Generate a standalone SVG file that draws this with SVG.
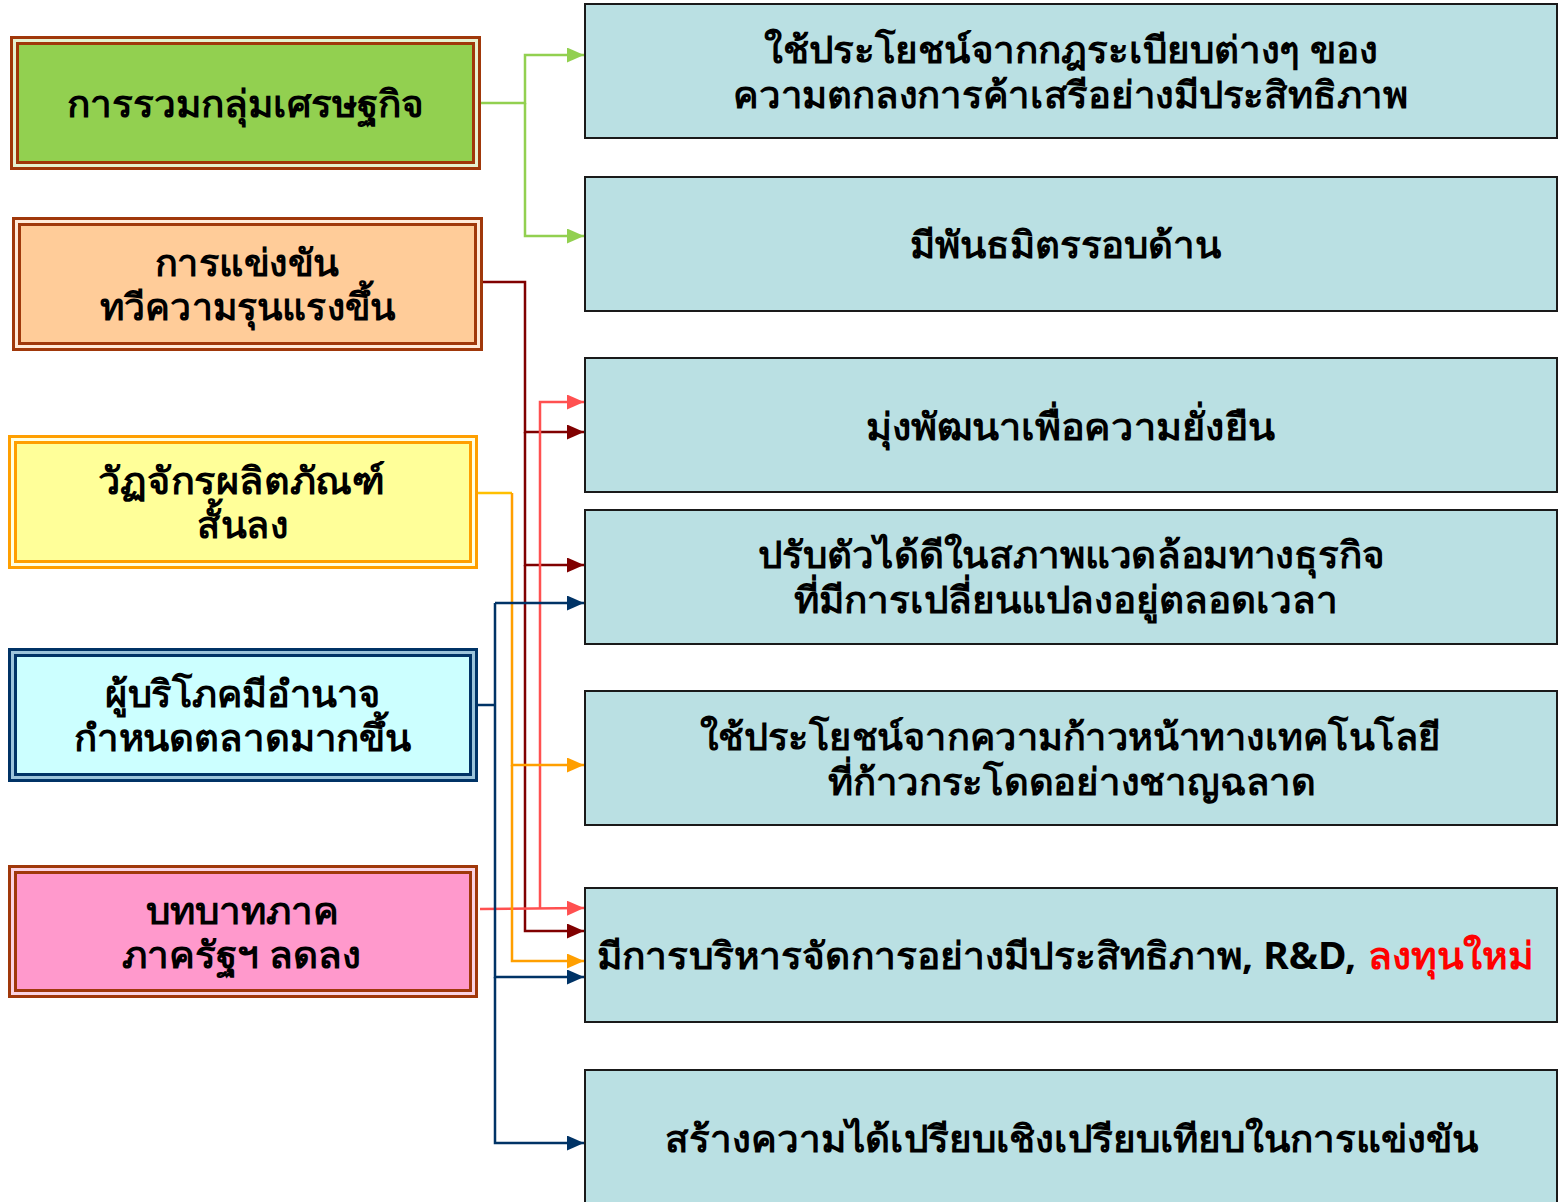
<svg xmlns="http://www.w3.org/2000/svg" width="1559" height="1202" viewBox="0 0 1559 1202">
<defs>
<style>
text{font-family:"Noto Sans","Liberation Sans",sans-serif;font-weight:bold;font-size:37px;fill:#000;text-anchor:middle}
.rb{fill:#BAE0E3;stroke:#1a1a1a;stroke-width:2}
.gap{fill:none;stroke-width:3}
.c{fill:none;stroke-width:2.5}
</style>
<marker id="aG" markerUnits="userSpaceOnUse" markerWidth="17" markerHeight="15" refX="17" refY="7.5" orient="auto"><path d="M0,0 L17,7.5 L0,15 z" fill="#92D050"/></marker>
<marker id="aR" markerUnits="userSpaceOnUse" markerWidth="17" markerHeight="15" refX="17" refY="7.5" orient="auto"><path d="M0,0 L17,7.5 L0,15 z" fill="#800000"/></marker>
<marker id="aS" markerUnits="userSpaceOnUse" markerWidth="17" markerHeight="15" refX="17" refY="7.5" orient="auto"><path d="M0,0 L17,7.5 L0,15 z" fill="#FF5050"/></marker>
<marker id="aO" markerUnits="userSpaceOnUse" markerWidth="17" markerHeight="15" refX="17" refY="7.5" orient="auto"><path d="M0,0 L17,7.5 L0,15 z" fill="#FF9F00"/></marker>
<marker id="aN" markerUnits="userSpaceOnUse" markerWidth="17" markerHeight="15" refX="17" refY="7.5" orient="auto"><path d="M0,0 L17,7.5 L0,15 z" fill="#003366"/></marker>
</defs>
<rect width="1559" height="1202" fill="#fff"/>

<g id="connectors">
<path class="c" stroke="#92D050" d="M481,103 H525 V55 H584" marker-end="url(#aG)"/>
<path class="c" stroke="#92D050" d="M525,103 V236 H584" marker-end="url(#aG)"/>
<path class="c" stroke="#800000" d="M483,282 H525 V432 H584" marker-end="url(#aR)"/>
<path class="c" stroke="#800000" d="M525,432 V565 H584" marker-end="url(#aR)"/>
<path class="c" stroke="#800000" d="M525,565 V931 H584" marker-end="url(#aR)"/>
<path class="c" stroke="#FF5050" d="M480,909 L584,908" marker-end="url(#aS)"/>
<path class="c" stroke="#FF5050" d="M540,908 V402 H584" marker-end="url(#aS)"/>
<path class="c" stroke="#FFC000" stroke-width="3" d="M465,493 H512"/>
<path class="c" stroke="#FF9F00" stroke-width="3" d="M512,493 V765 H584" marker-end="url(#aO)"/>
<path class="c" stroke="#FF9F00" stroke-width="3" d="M512,765 V961 H584" marker-end="url(#aO)"/>
<path class="c" stroke="#003366" d="M478,705 H495"/>
<path class="c" stroke="#003366" d="M495,603 H584" marker-end="url(#aN)"/>
<path class="c" stroke="#003366" d="M495,603 V977 H584" marker-end="url(#aN)"/>
<path class="c" stroke="#003366" d="M495,977 V1143 H584" marker-end="url(#aN)"/>
</g>

<g id="n-green">
<rect x="11.5" y="37.5" width="468" height="131" fill="#92D050" stroke="#A0380A" stroke-width="3"/>
<rect x="14.5" y="40.5" width="462" height="125" class="gap" stroke="#E6F2D0"/>
<rect x="17.5" y="43.5" width="456" height="119" fill="none" stroke="#A0380A" stroke-width="3"/>
<text x="245.5" y="117" textLength="357" lengthAdjust="spacingAndGlyphs">การรวมกลุ่มเศรษฐกิจ</text>
</g>

<g id="n-orange">
<rect x="13.5" y="218.5" width="468" height="131" fill="#FFCC99" stroke="#A0380A" stroke-width="3"/>
<rect x="16.5" y="221.5" width="462" height="125" class="gap" stroke="#FFEAD8"/>
<rect x="19.5" y="224.5" width="456" height="119" fill="none" stroke="#A0380A" stroke-width="3"/>
<text x="247" y="276" textLength="184" lengthAdjust="spacingAndGlyphs">การแข่งขัน</text>
<text x="247.5" y="320" textLength="295" lengthAdjust="spacingAndGlyphs">ทวีความรุนแรงขึ้น</text>
</g>

<g id="n-yellow">
<rect x="9.5" y="436.5" width="467" height="131" fill="#FFFF99" stroke="#FF9F00" stroke-width="3"/>
<rect x="12.5" y="439.5" width="461" height="125" class="gap" stroke="#FFFFE0"/>
<rect x="15.5" y="442.5" width="455" height="119" fill="none" stroke="#FF9F00" stroke-width="3"/>
<text x="241.5" y="494" textLength="287" lengthAdjust="spacingAndGlyphs">วัฏจักรผลิตภัณฑ์</text>
<text x="242.5" y="538" textLength="91" lengthAdjust="spacingAndGlyphs">สั้นลง</text>
</g>

<g id="n-cyan">
<rect x="9.5" y="649.5" width="467" height="131" fill="#CCFFFF" stroke="#003366" stroke-width="3"/>
<rect x="12.5" y="652.5" width="461" height="125" class="gap" stroke="#9CC4DA"/>
<rect x="15.5" y="655.5" width="455" height="119" fill="none" stroke="#003366" stroke-width="3"/>
<text x="243" y="707" textLength="276" lengthAdjust="spacingAndGlyphs">ผู้บริโภคมีอำนาจ</text>
<text x="242.5" y="751" textLength="337" lengthAdjust="spacingAndGlyphs">กำหนดตลาดมากขึ้น</text>
</g>

<g id="n-pink">
<rect x="9.5" y="866.5" width="467" height="130" fill="#FF99CC" stroke="#A0380A" stroke-width="3"/>
<rect x="12.5" y="869.5" width="461" height="124" class="gap" stroke="#FAD3E2"/>
<rect x="15.5" y="872.5" width="455" height="118" fill="none" stroke="#A0380A" stroke-width="3"/>
<text x="242.5" y="924" textLength="193" lengthAdjust="spacingAndGlyphs">บทบาทภาค</text>
<text x="241.5" y="968" textLength="239" lengthAdjust="spacingAndGlyphs">ภาครัฐฯ ลดลง</text>
</g>

<g id="r1">
<rect class="rb" x="585" y="4" width="972" height="134"/>
<text x="1071" y="63" textLength="614" lengthAdjust="spacingAndGlyphs">ใช้ประโยชน์จากกฎระเบียบต่างๆ ของ</text>
<text x="1070.5" y="108" textLength="675" lengthAdjust="spacingAndGlyphs">ความตกลงการค้าเสรีอย่างมีประสิทธิภาพ</text>
</g>
<g id="r2">
<rect class="rb" x="585" y="177" width="972" height="134"/>
<text x="1065.5" y="258" textLength="311" lengthAdjust="spacingAndGlyphs">มีพันธมิตรรอบด้าน</text>
</g>
<g id="r3">
<rect class="rb" x="585" y="358" width="972" height="134"/>
<text x="1070.5" y="440" textLength="409" lengthAdjust="spacingAndGlyphs">มุ่งพัฒนาเพื่อความยั่งยืน</text>
</g>
<g id="r4">
<rect class="rb" x="585" y="510" width="972" height="134"/>
<text x="1071.5" y="568" textLength="627" lengthAdjust="spacingAndGlyphs">ปรับตัวได้ดีในสภาพแวดล้อมทางธุรกิจ</text>
<text x="1066" y="613" textLength="544" lengthAdjust="spacingAndGlyphs">ที่มีการเปลี่ยนแปลงอยู่ตลอดเวลา</text>
</g>
<g id="r5">
<rect class="rb" x="585" y="691" width="972" height="134"/>
<text x="1070.5" y="750" textLength="741" lengthAdjust="spacingAndGlyphs">ใช้ประโยชน์จากความก้าวหน้าทางเทคโนโลยี</text>
<text x="1072" y="795" textLength="488" lengthAdjust="spacingAndGlyphs">ที่ก้าวกระโดดอย่างชาญฉลาด</text>
</g>
<g id="r6">
<rect class="rb" x="585" y="888" width="972" height="134"/>
<text x="597" y="969" style="text-anchor:start" textLength="759" lengthAdjust="spacingAndGlyphs">มีการบริหารจัดการอย่างมีประสิทธิภาพ, R&amp;D,</text>
<text x="1368" y="969" style="text-anchor:start;fill:#FF0000" textLength="165" lengthAdjust="spacingAndGlyphs">ลงทุนใหม่</text>
</g>
<g id="r7">
<rect class="rb" x="585" y="1070" width="972" height="140"/>
<text x="1071.5" y="1152" textLength="813" lengthAdjust="spacingAndGlyphs">สร้างความได้เปรียบเชิงเปรียบเทียบในการแข่งขัน</text>
</g>
</svg>
